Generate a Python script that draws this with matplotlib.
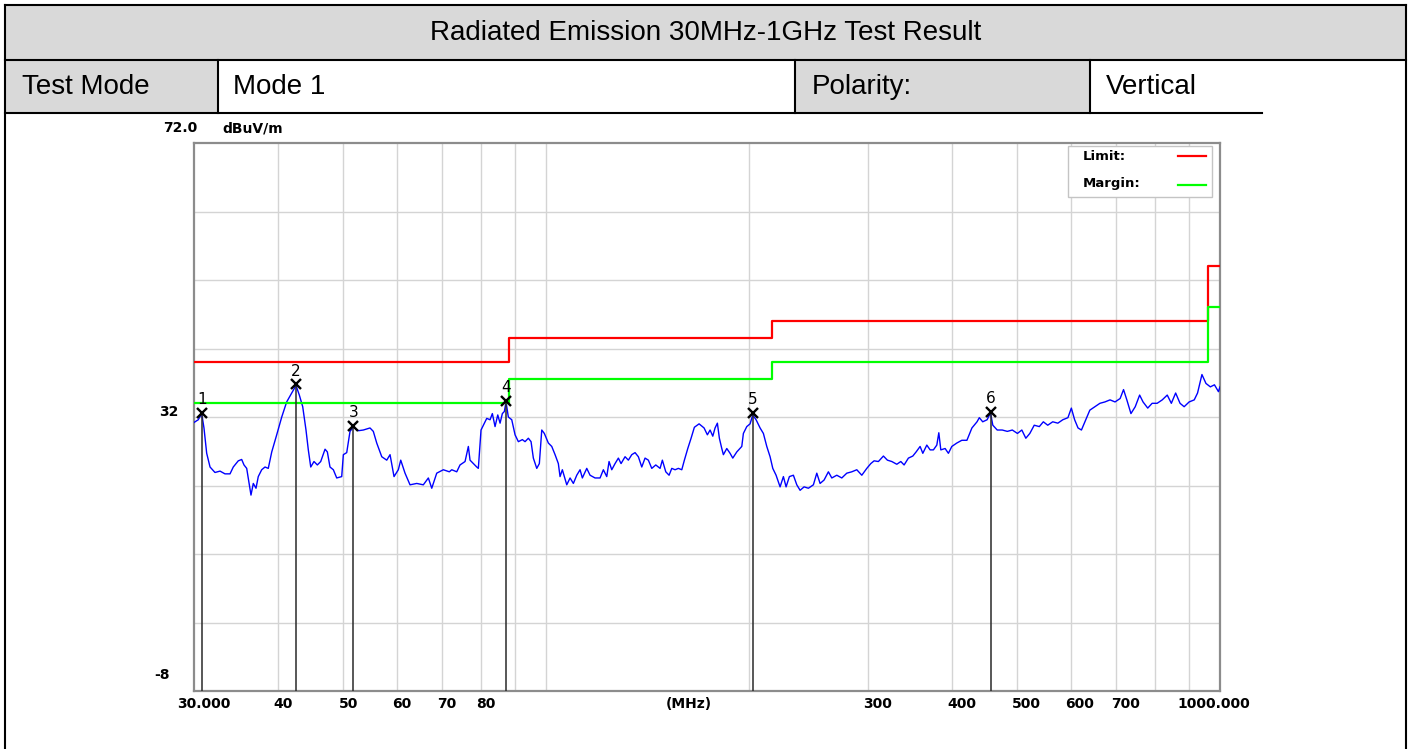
import matplotlib
matplotlib.use('Agg')
import matplotlib.pyplot as plt
from matplotlib.patches import Rectangle
from matplotlib.ticker import NullLocator, NullFormatter


# header table
title_text = 'Radiated Emission 30MHz-1GHz Test Result'
row_text = ['Test Mode', 'Mode 1', 'Polarity:', 'Vertical']

freq_mhz = [
    30.00, 30.44, 30.80, 31.04, 31.33, 31.69, 32.23, 32.79, 33.35, 33.93,
    34.31, 34.90, 35.31, 35.59, 35.92, 36.24, 36.45, 36.74, 37.08, 37.37,
    37.81, 38.24, 38.67, 39.13, 39.80, 40.49, 41.18, 41.89, 42.51, 43.00,
    43.50, 43.99, 44.34, 44.71, 45.21, 45.73, 46.26, 46.95, 47.32, 47.75,
    48.30, 48.86, 49.70, 49.98, 50.56, 51.13, 51.71, 52.61, 53.51, 54.75,
    55.37, 56.02, 56.99, 57.97, 58.63, 59.43, 60.31, 60.81, 61.71, 62.77,
    64.23, 65.69, 66.83, 67.61, 68.77, 70.34, 71.80, 72.39, 73.64, 74.47,
    75.76, 76.62, 77.06, 77.94, 78.85, 79.28, 80.01, 80.65, 81.59, 82.52,
    83.17, 83.94, 84.72, 85.39, 86.06, 86.65, 87.15, 87.84, 88.87, 89.88,
    90.90, 92.15, 93.00, 94.06, 94.93, 95.68, 96.80, 97.66, 98.47, 99.34,
    100.71, 101.89, 103.05, 104.21, 104.82, 105.65, 107.25, 108.47, 109.70, 110.98,
    112.24, 113.12, 114.84, 116.14, 118.14, 120.18, 121.54, 122.96, 123.93, 125.08,
    126.50, 127.94, 129.12, 130.90, 132.39, 133.93, 135.45, 136.99, 138.59, 140.16,
    141.75, 143.41, 145.39, 147.54, 148.70, 150.44, 152.15, 153.56, 155.30, 157.06,
    158.90, 160.32, 162.19, 164.03, 165.89, 168.58, 171.48, 173.43, 175.04, 176.66,
    178.05, 179.46, 180.69, 182.18, 183.18, 185.32, 187.42, 189.16, 191.76, 195.07,
    196.14, 198.43, 200.68, 202.54, 204.84, 207.66, 210.02, 212.47, 214.88, 216.87,
    219.33, 222.35, 224.88, 226.96, 229.53, 232.69, 235.42, 238.09, 241.36, 244.94,
    249.16, 252.07, 254.93, 258.44, 262.27, 265.33, 269.91, 274.56, 279.29, 284.11,
    289.00, 293.99, 299.05, 303.17, 306.61, 311.15, 316.52, 320.87, 325.73, 331.35,
    335.91, 339.72, 344.75, 349.98, 353.95, 358.82, 362.15, 367.13, 371.30, 375.51,
    379.90, 382.51, 385.13, 390.83, 395.26, 399.88, 406.78, 413.79, 421.07, 428.33,
    435.86, 439.30, 444.44, 451.17, 456.44, 460.04, 467.02, 475.07, 483.42, 491.75,
    500.40, 507.98, 514.98, 522.07, 529.98, 539.30, 546.72, 555.00, 564.57, 574.50,
    584.40, 594.68, 601.64, 608.46, 615.57, 622.77, 631.99, 640.90, 651.95, 663.41,
    674.85, 686.72, 698.56, 710.84, 719.15, 727.31, 737.58, 748.50, 759.84, 768.72,
    781.17, 793.01, 806.68, 820.86, 835.01, 846.79, 859.33, 872.35, 884.67, 899.92,
    915.74, 926.13, 940.16, 953.11, 967.56, 981.21, 994.71, 1000.00,
]
level_dbuv = [
    31.2, 31.6, 32.5, 30.4, 26.7, 24.7, 23.9, 24.1, 23.7, 23.7,
    24.7, 25.6, 25.8, 25.0, 24.5, 22.1, 20.6, 22.3, 21.6, 23.3,
    24.3, 24.7, 24.5, 26.9, 29.4, 32.0, 34.2, 35.5, 36.6, 35.2,
    33.5, 30.1, 27.2, 24.7, 25.5, 25.0, 25.5, 27.3, 26.9, 24.7,
    24.3, 23.1, 23.3, 26.5, 26.8, 29.9, 30.5, 30.0, 30.1, 30.4,
    29.9, 28.2, 26.2, 25.7, 26.5, 23.3, 24.3, 25.7, 23.8, 22.1,
    22.3, 22.1, 23.1, 21.6, 23.8, 24.3, 24.0, 24.3, 24.0, 25.0,
    25.5, 27.7, 25.7, 25.2, 24.7, 24.5, 30.1, 30.8, 31.8, 31.6,
    32.5, 30.6, 32.3, 31.1, 32.5, 32.8, 34.2, 32.0, 31.6, 29.4,
    28.4, 28.7, 28.4, 28.9, 28.4, 26.0, 24.5, 25.2, 30.1, 29.6,
    28.2, 27.7, 26.5, 25.2, 23.3, 24.3, 22.1, 23.1, 22.3, 23.5,
    24.3, 23.1, 24.5, 23.5, 23.1, 23.1, 24.3, 23.3, 25.5, 24.3,
    25.2, 26.0, 25.2, 26.2, 25.7, 26.5, 26.8, 26.2, 24.7, 26.0,
    25.7, 24.5, 25.0, 24.5, 25.7, 24.0, 23.5, 24.5, 24.3, 24.5,
    24.3, 25.7, 27.4, 28.9, 30.5, 31.0, 30.4, 29.4, 30.1, 29.2,
    30.4, 31.1, 28.9, 27.4, 26.5, 27.4, 26.7, 26.0, 26.9, 27.7,
    29.6, 30.6, 31.0, 32.3, 31.6, 30.4, 29.6, 27.7, 26.2, 24.5,
    23.5, 21.8, 23.3, 21.8, 23.3, 23.5, 22.1, 21.3, 21.8, 21.6,
    22.1, 23.8, 22.3, 22.8, 24.0, 23.1, 23.5, 23.1, 23.8, 24.0,
    24.3, 23.5, 24.5, 25.2, 25.6, 25.5, 26.3, 25.7, 25.5, 25.1,
    25.5, 25.0, 26.0, 26.3, 26.9, 27.7, 26.7, 27.9, 27.2, 27.2,
    27.9, 29.7, 27.2, 27.4, 26.7, 27.7, 28.2, 28.6, 28.6, 30.4,
    31.3, 31.9, 31.3, 31.6, 32.6, 30.8, 30.1, 30.1, 29.9, 30.1,
    29.6, 30.1, 28.9, 29.6, 30.8, 30.6, 31.3, 30.8, 31.3, 31.1,
    31.6, 31.9, 33.3, 31.6, 30.4, 30.1, 31.6, 33.0, 33.5, 34.0,
    34.2, 34.5, 34.2, 34.7, 36.0, 34.5, 32.5, 33.5, 35.2, 34.2,
    33.3, 34.0, 34.0, 34.5, 35.2, 34.0, 35.5, 34.0, 33.5, 34.2,
    34.5, 35.5, 38.2, 36.9, 36.4, 36.7, 35.7, 36.4,
]

# limit / margin (value holds from each freq to the next)
limit_freq = [30, 88, 216, 960, 1000]
limit_level = [40.0, 43.5, 46.0, 54.0, 54.0]
margin_level = [34.0, 37.5, 40.0, 48.0, 48.0]

# marked peaks
marker_id = ['1', '2', '3', '4', '5', '6']
marker_freq = [30.80, 42.51, 51.71, 87.15, 202.54, 456.44]
marker_level = [32.6, 36.8, 30.7, 34.4, 32.6, 32.8]

grid_freq = [40, 50, 60, 70, 80, 90, 100, 200, 300, 400, 500, 600, 700, 800, 900]
grid_level = [2, 12, 22, 32, 42, 52, 62]
xtick_freq = [40, 50, 60, 70, 80, 300, 400, 500, 600, 700]
xtick_text = ['40', '50', '60', '70', '80', '300', '400', '500', '600', '700']


W, H = 1411, 749
fig = plt.figure(figsize=(W / 100, H / 100), dpi=100)

# ---- header table, drawn in pixel coords
bg = fig.add_axes([0, 0, 1, 1])
bg.set_xlim(0, W)
bg.set_ylim(H, 0)
bg.axis('off')

gray = '#d9d9d9'
bg.add_patch(Rectangle((5, 5), 1401, 55, fc=gray, ec='none'))
bg.add_patch(Rectangle((5, 60), 213, 53, fc=gray, ec='none'))
bg.add_patch(Rectangle((795, 60), 295, 53, fc=gray, ec='none'))

lw_tab = 1.5
bg.plot([5, 1406], [5, 5], color='black', lw=lw_tab)
bg.plot([5, 5], [5, H], color='black', lw=lw_tab)
bg.plot([1406, 1406], [5, H], color='black', lw=lw_tab)
bg.plot([5, 1406], [60, 60], color='black', lw=lw_tab)
bg.plot([5, 1262], [113, 113], color='black', lw=lw_tab)
for xv in [218, 795, 1090]:
    bg.plot([xv, xv], [60, 113], color='black', lw=lw_tab)

tfont = dict(family='Liberation Sans', fontsize=20, color='black')
bg.text(705.5, 33, title_text, ha='center', va='center', **tfont)
for xt, s in zip([22, 233, 812, 1106], row_text):
    bg.text(xt, 87, s, ha='left', va='center', **tfont)

# ---- spectrum plot
ax = fig.add_axes([194 / W, (H - 691) / H, 1026 / W, 548 / H])
ax.set_xscale('log')
ax.set_xlim(30, 1000)
ax.set_ylim(-8, 72)
ax.set_xticks(grid_freq)
ax.set_yticks(grid_level)
ax.xaxis.set_minor_locator(NullLocator())
ax.xaxis.set_major_formatter(NullFormatter())
ax.yaxis.set_major_formatter(NullFormatter())
ax.tick_params(length=0)
ax.grid(True, color='#d4d4d4', lw=1.0)
ax.set_axisbelow(True)
for sp in ax.spines.values():
    sp.set_color('#8c8c8c')
    sp.set_linewidth(1.6)

ax.plot(freq_mhz, level_dbuv, color='#0000ff', lw=1.0, zorder=3)
ax.step(limit_freq, limit_level, where='post', color='#ff0000', lw=1.6, zorder=4)
ax.step(limit_freq, margin_level, where='post', color='#00ff00', lw=1.6, zorder=4)

ax.vlines(marker_freq, -8, marker_level, color='#2a2a2a', lw=1.1, zorder=5)
ax.plot(marker_freq, marker_level, ls='none', marker='x', ms=7.5, mew=1.7,
        color='black', zorder=6)
for mid, f, lv in zip(marker_id, marker_freq, marker_level):
    ax.annotate(mid, (f, lv), xytext=(0, 13), textcoords='offset pixels',
                ha='center', va='center', fontsize=11, zorder=6)

lab = dict(fontsize=10, fontweight='bold', color='black')
for f, s in zip(xtick_freq, xtick_text):
    ax.annotate(s, (f, 0), xycoords=('data', 'axes fraction'), xytext=(-5, -13),
                textcoords='offset pixels', ha='left', va='center', **lab)
ax.annotate('30.000', (30, 0), xycoords=('data', 'axes fraction'), xytext=(10, -13),
            textcoords='offset pixels', ha='center', va='center', **lab)
ax.annotate('1000.000', (1000, 0), xycoords=('data', 'axes fraction'), xytext=(-6, -13),
            textcoords='offset pixels', ha='center', va='center', **lab)
ax.annotate('(MHz)', (0.4825, 0), xycoords='axes fraction', xytext=(0, -13),
            textcoords='offset pixels', ha='center', va='center', **lab)

ax.annotate('72.0', (0, 72), xycoords=('axes fraction', 'data'), xytext=(3, 15),
            textcoords='offset pixels', ha='right', va='center', **lab)
ax.annotate('dBuV/m', (0, 72), xycoords=('axes fraction', 'data'), xytext=(28, 15),
            textcoords='offset pixels', ha='left', va='center', **lab)
ax.annotate('32', (0, 32), xycoords=('axes fraction', 'data'), xytext=(-16, 5),
            textcoords='offset pixels', ha='right', va='center', **lab)
ax.annotate('-8', (0, -8), xycoords=('axes fraction', 'data'), xytext=(-24, 16),
            textcoords='offset pixels', ha='right', va='center', **lab)

# legend box
leg = dict(fontsize=9.5, fontweight='bold', color='black')
ax.add_patch(Rectangle((0.852, 0.9015), 0.140, 0.093, transform=ax.transAxes,
                       fc='white', ec='#c4c4c4', lw=1.0, zorder=7))
ax.text(0.8665, 0.9745, 'Limit:', transform=ax.transAxes, ha='left', va='center',
        zorder=8, **leg)
ax.text(0.8665, 0.927, 'Margin:', transform=ax.transAxes, ha='left', va='center',
        zorder=8, **leg)
ax.plot([0.959, 0.986], [0.976, 0.976], transform=ax.transAxes, color='#ff0000',
        lw=1.6, zorder=8, clip_on=False)
ax.plot([0.959, 0.986], [0.9234, 0.9234], transform=ax.transAxes, color='#00ff00',
        lw=1.6, zorder=8, clip_on=False)

fig.savefig('out.png', dpi=100)
